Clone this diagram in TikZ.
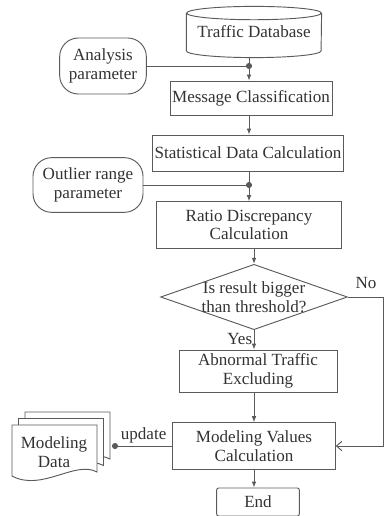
\documentclass[tikz,border=0pt]{standalone}
\usepackage{fontspec}
\setmainfont{Liberation Serif}
\usepackage{xcolor}
\usetikzlibrary{arrows.meta,positioning,shapes.geometric}

\begin{document}
\begin{tikzpicture}[x=0.75pt, y=-0.75pt, >={Latex[length=4.5pt,width=3.5pt]},
    font=\fontsize{12.8}{14}\selectfont,
    flowLine/.style={draw=lineCol, line width=0.7pt},
    procBox/.style={flowLine, text=textCol, align=center, inner sep=0pt},
    paramBox/.style={procBox, rounded corners=14pt},
    decision/.style={diamond, flowLine, minimum width=140pt, minimum height=49pt, inner sep=0pt},
    plainText/.style={text=textCol, align=center, inner sep=1pt}]
    % Coordinates & parameters
    \def\dbRx{50.5pt}
    \def\dbRy{5pt}
    \def\dotSize{2.3pt}

    % Colors
    \definecolor{lineCol}{HTML}{5A5A5A}
    \definecolor{textCol}{HTML}{333333}

    \useasboundingbox (0,0) rectangle (385,516);

    % 1. Traffic database and analysis parameter
    \node[plainText, minimum width=101pt, minimum height=28pt, inner sep=0pt] (db) at (254,32) {Traffic Database};
    \draw[flowLine] (db.north west) -- (db.south west)
        arc[start angle=180, end angle=360, x radius=\dbRx, y radius=\dbRy] -- (db.north east);
    \draw[flowLine] (db.north) ellipse[x radius=\dbRx, y radius=\dbRy];

    \node[paramBox, minimum width=65pt, minimum height=42pt] (ana) at (103,66) {Analysis\\parameter};
    \node[procBox, minimum width=121.5pt, minimum height=25.5pt] (msg) at (251,98) {Message Classification};
    \coordinate (joinA) at (249,66);

    \draw[flowLine] ([yshift=-\dbRy]db.south -| joinA) -- (joinA);
    \draw[flowLine] (ana.east) -- (joinA);
    \fill[lineCol] (joinA) circle (\dotSize);
    \draw[flowLine, ->] (joinA) -- (joinA |- msg.north);

    % 2. Statistics and outlier range parameter
    \node[procBox, minimum width=143pt, minimum height=27pt] (stat) at (248,153) {Statistical Data Calculation};
    \draw[flowLine, ->] (msg.south -| joinA) -- (joinA |- stat.north);

    \node[paramBox, minimum width=82.5pt, minimum height=41pt] (outl) at (88,185) {Outlier range\\parameter};
    \node[procBox, minimum width=139pt, minimum height=35pt] (ratio) at (249,225) {Ratio Discrepancy\\Calculation};
    \coordinate (joinB) at (249,185);

    \draw[flowLine] (stat.south -| joinB) -- (joinB);
    \draw[flowLine] (outl.east) -- (joinB);
    \fill[lineCol] (joinB) circle (\dotSize);
    \draw[flowLine, ->] (joinB) -- (joinB |- ratio.north);

    % 3. Threshold decision
    \node[decision] (dec) at (254,297) {};
    \node[plainText] (decText) at (dec) {Is result bigger\\than threshold?};
    \draw[flowLine, ->] (ratio.south -| dec.north) -- (dec.north);

    \node[procBox, minimum width=118.5pt, minimum height=31.5pt] (abn) at (258,371) {Abnormal Traffic\\Excluding};
    \draw[flowLine, ->] (dec.south) -- node[plainText, pos=0.45, left=0pt] (yesLbl) {Yes} (dec.south |- abn.north);

    % 4. Modeling values, update and end
    \node[procBox, minimum width=122pt, minimum height=35pt] (mod) at (254,446) {Modeling Values\\Calculation};
    \draw[flowLine, ->] (mod.north |- abn.south) -- (mod.north);

    \draw[flowLine, -{Straight Barb[length=4pt,width=7pt]}] (dec.east) -- ++(35.5,0) coordinate (noCorner) |- (mod.east);
    \node[plainText] (noLbl) at (366,283) {No};

    \node[procBox, minimum width=62pt, minimum height=21pt, rounded corners=1.5pt] (finish) at (258,502) {End};
    \draw[flowLine, ->] (mod.south) -- (mod.south |- finish.north);

    % Stacked documents
    \foreach \dx/\dy in {13/-13, 6.5/-6.5, 0/0} {
        \begin{scope}[shift={(\dx,\dy)}]
            \draw[flowLine, fill=white] (12,425) -- (97,425) -- (97,472)
                .. controls (75,460) and (42,492) .. (12,476) -- cycle;
        \end{scope}
    }
    \node[plainText] (modData) at (54,452) {Modeling\\Data};

    \coordinate (updDot) at (115,446);
    \draw[flowLine] (mod.west) -- node[plainText, above=1pt] (updLbl) {update} (mod.west -| updDot);
    \fill[lineCol] (mod.west -| updDot) circle (\dotSize);
\end{tikzpicture}
\end{document}
